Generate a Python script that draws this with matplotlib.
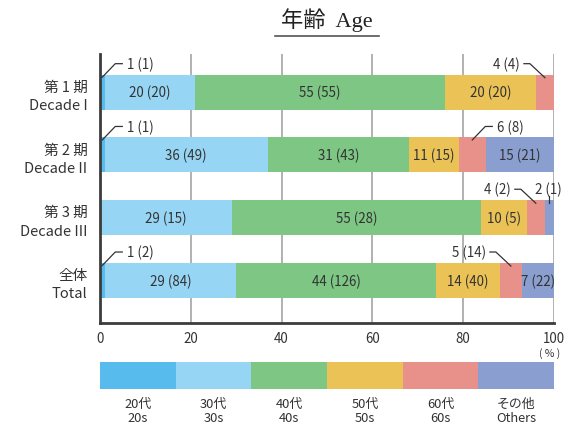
import matplotlib
matplotlib.use("Agg")
import matplotlib.pyplot as plt
import numpy as np
from matplotlib.lines import Line2D
from matplotlib.transforms import IdentityTransform

plt.rcParams['font.family'] = ['Noto Sans CJK JP', 'DejaVu Sans']

# ---- data ----
rows = ["第 1 期\nDecade I", "第 2 期\nDecade II", "第 3 期\nDecade III", "全体\nTotal"]
categories = ["20代\n20s", "30代\n30s", "40代\n40s", "50代\n50s", "60代\n60s", "その他\nOthers"]
pct = np.array([
    [1, 20, 55, 20, 4, 0],
    [1, 36, 31, 11, 6, 15],
    [0, 29, 55, 10, 4, 2],
    [1, 29, 44, 14, 5, 7],
])
counts = np.array([
    [1, 20, 55, 20, 4, 0],
    [1, 49, 43, 15, 8, 21],
    [0, 15, 28, 5, 2, 1],
    [2, 84, 126, 40, 14, 22],
])
xticks = [0, 20, 40, 60, 80, 100]
colors = ["#58BBEE", "#97D5F5", "#7DC683", "#EAC256", "#E8918A", "#8A9ECF"]
# outside labels: (row, category, style)
outside = [(0, 0, "ur"), (0, 4, "ul"), (1, 0, "ur"), (1, 4, "ur"),
           (2, 4, "ul"), (2, 5, "tick"), (3, 0, "ur"), (3, 4, "ul")]

TXT = "#333333"
FS = 9.6
W, H = 566, 427
fig = plt.figure(figsize=(W / 100, H / 100), dpi=100)

ax = fig.add_axes([100 / W, 1 - 324 / H, 454 / W, 269 / H])
y = np.arange(len(rows))
bh = 0.557
left = np.zeros(len(rows))
for j in range(len(categories)):
    ax.barh(y, pct[:, j], left=left, height=bh, color=colors[j], zorder=3, linewidth=0)
    for i in range(len(rows)):
        if pct[i, j] >= 7:
            ax.text(left[i] + pct[i, j] / 2, y[i], f"{pct[i, j]} ({counts[i, j]})",
                    ha="center", va="center", fontsize=FS, color=TXT, zorder=4)
    left += pct[:, j]

ax.set_xlim(0, 100)
ax.set_ylim(3.677, -0.608)
ax.set_xticks(xticks)
ax.set_xticklabels([str(t) for t in xticks], fontsize=9.6, color=TXT)
ax.tick_params(axis="x", length=0, pad=6)
ax.set_yticks(y)
ax.set_yticklabels(rows, fontsize=10.5, color=TXT, linespacing=1.4, ha="right")
ax.tick_params(axis="y", length=0, pad=9)
for t in xticks[1:]:
    ax.axvline(t, color="#ababab", lw=1.3, zorder=1)
for s in ["top", "right"]:
    ax.spines[s].set_visible(False)
for s in ["left", "bottom"]:
    ax.spines[s].set_color("#3c3c3c")
    ax.spines[s].set_linewidth(2)
    ax.spines[s].set_zorder(5)
ax.text(0.99, -0.108, "( % )", transform=ax.transAxes, ha="center", va="center",
        fontsize=7.5, color=TXT)

# outside labels with leader lines (computed in pixel space)
cum = np.cumsum(pct, axis=1)
fig.canvas.draw()
for (i, j, style) in outside:
    xc = cum[i, j] - pct[i, j] / 2
    ax_x, ax_y = ax.transData.transform((xc, y[i] - bh / 2))
    lab = f"{pct[i, j]} ({counts[i, j]})"
    if style == "ur":
        pts = [(0, -2.5), (13, 11), (20, 11)]
        tx, ha = 25, "left"
    elif style == "ul":
        pts = [(0, -3), (-15, 11), (-21, 11)]
        tx, ha = -25, "right"
    else:
        pts = [(0, -2.5), (0, 4)]
        tx, ha = -14, "left"
    xs = [ax_x + p[0] for p in pts]
    ys = [ax_y + p[1] for p in pts]
    fig.add_artist(Line2D(xs, ys, transform=IdentityTransform(), color="#333333", lw=0.9))
    tx_d, ty_d = fig.transFigure.inverted().transform((ax_x + tx, ax_y + 11))
    fig.text(tx_d, ty_d, lab, ha=ha, va="center", fontsize=FS, color=TXT)

# legend strip
lax = fig.add_axes([100 / W, 1 - 390 / H, 454 / W, 27.3 / H])
n = len(categories)
lax.barh(0, [1] * n, left=np.arange(n), height=1, color=colors, linewidth=0)
lax.set_xlim(0, n)
lax.set_ylim(-0.5, 0.5)
lax.axis("off")
for k, c in enumerate(categories):
    xf = (100 + 454 * (k + 0.5) / n) / W
    fig.text(xf, 1 - 411.5 / H, c, ha="center", va="center", fontsize=9.3, color=TXT,
             linespacing=1.1)

# title
fig.text(327 / W, 1 - 20 / H, "年齢  Age", ha="center", va="center", fontsize=16,
         color="#222222", family=["Liberation Serif", "Noto Sans CJK JP"])
fig.add_artist(Line2D([275 / W, 379 / W], [1 - 36.5 / H, 1 - 36.5 / H],
                      transform=fig.transFigure, color="#555555", lw=1.2))

fig.savefig("out.png", dpi=100)
